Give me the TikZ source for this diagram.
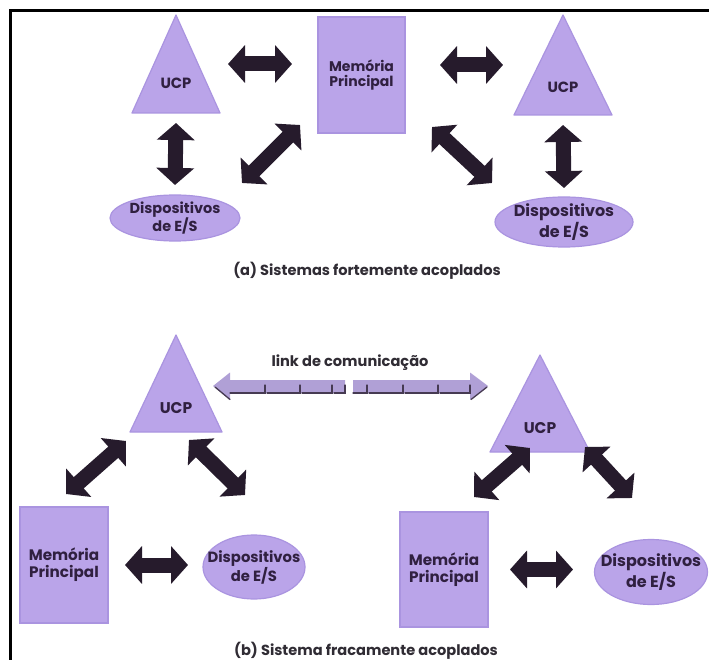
\documentclass[tikz,border=0pt]{standalone}
\usepackage{fontspec}
\setmainfont{Poppins}
\usetikzlibrary{arrows.meta,shapes.geometric,calc}
\definecolor{lav}{RGB}{186,164,233}
\definecolor{lavedge}{RGB}{170,148,224}
\definecolor{ink}{RGB}{48,32,64}
\definecolor{arrowc}{RGB}{38,27,44}
\definecolor{capc}{RGB}{48,44,52}
\definecolor{linkc}{RGB}{176,160,214}
\definecolor{linkdark}{RGB}{70,58,82}
\newcommand{\fsz}[1]{\fontsize{#1}{1.12\dimexpr#1pt\relax}\selectfont}
\tikzset{
  lbl/.style={font=\bfseries, text=ink, align=center, inner sep=0pt},
  capt/.style={font=\bfseries\fsz{14.6}, text=capc, inner sep=0pt},
  tribox/.style={rectangle, inner sep=0pt, outer sep=0pt},
  trifill/.style={fill=lav, draw=lavedge, line width=1.2pt, line join=round},
  membox/.style={rectangle, fill=lav, draw=lavedge, line width=1.2pt, inner sep=0pt, outer sep=0pt, lbl},
  esnode/.style={ellipse, fill=lav, draw=lavedge, line width=1.2pt, inner sep=0pt, outer sep=0pt},
  bigarrow/.style={draw=arrowc, line width=15pt,
    {Triangle[width=37pt,length=17pt]}-{Triangle[width=37pt,length=17pt]}},
  linkpiece/.style={fill=linkc},
  linkshade/.style={draw=linkdark, line width=1.3pt, line cap=round},
}
\begin{document}
\begin{tikzpicture}[x=1pt,y=-1pt]
\useasboundingbox (0,0) rectangle (709,660);
\fill[white] (0,0) rectangle (709,660);

% outer frame
\draw[line width=2.5pt, black] (10.5,660) -- (10.5,10.5) -- (709,10.5);

% ---------- (a) tightly coupled ----------
\node[tribox, minimum width=88pt, minimum height=98pt] (ucpA1) at (176,64) {};
\filldraw[trifill] (ucpA1.north) -- (ucpA1.south west) -- (ucpA1.south east) -- cycle;
\node[lbl, font=\bfseries\fsz{14.8}] (ucpA1t) at ([yshift=30pt]ucpA1.south) {UCP};

\node[membox, font=\bfseries\fsz{14}, minimum width=87pt, minimum height=116pt] (memA) at (361.5,75) {Memória\\Principal};

\node[tribox, minimum width=98pt, minimum height=100pt] (ucpA2) at (563,65) {};
\filldraw[trifill] (ucpA2.north) -- (ucpA2.south west) -- (ucpA2.south east) -- cycle;
\node[lbl, font=\bfseries\fsz{14.8}] (ucpA2t) at ([yshift=28pt]ucpA2.south) {UCP};

\node[esnode, minimum width=130pt, minimum height=46pt] (esA1) at (175,218) {};
\node[lbl, font=\bfseries\fsz{14.5}] (esA1t) at (esA1) {Dispositivos\\de E/S};
\node[esnode, minimum width=138pt, minimum height=50pt] (esA2) at (564,222) {};
\node[lbl, font=\bfseries\fsz{16}] (esA2t) at (esA2) {Dispositivos\\de E/S};

\draw[bigarrow] ([xshift=8pt]ucpA1.east) -- ([xshift=-26pt]memA.west |- ucpA1.east);
\draw[bigarrow] ([xshift=35pt]memA.east |- ucpA2.west) -- ([xshift=-11pt]ucpA2.west);
\draw[bigarrow] ([yshift=-10pt]ucpA1.south) -- ([yshift=10pt]esA1.north);
\draw[bigarrow] ([yshift=-10pt]ucpA2.south) -- ([yshift=9pt]esA2.north);
\draw[bigarrow] ([xshift=67pt,yshift=35pt]esA1.center) -- ([xshift=-18pt,yshift=8pt]memA.south west);
\draw[bigarrow] ([xshift=27pt,yshift=6pt]memA.south east) -- ([xshift=-72pt,yshift=39pt]esA2.center);

\node[capt] (captA) at (367,271) {(a) Sistemas fortemente acoplados};

% ---------- (b) loosely coupled ----------
\node[tribox, minimum width=92pt, minimum height=97pt] (ucpB1) at (176,383.5) {};
\filldraw[trifill] (ucpB1.north) -- (ucpB1.south west) -- (ucpB1.south east) -- cycle;
\node[lbl, font=\bfseries\fsz{15.5}] (ucpB1t) at ([yshift=24pt]ucpB1.south) {UCP};

\node[tribox, minimum width=100pt, minimum height=97pt] (ucpB2) at (540,403.5) {};
\filldraw[trifill] (ucpB2.north) -- (ucpB2.south west) -- (ucpB2.south east) -- cycle;
\node[lbl, font=\bfseries\fsz{15.5}] (ucpB2t) at ([yshift=24pt]ucpB2.south) {UCP};

\node[membox, font=\bfseries\fsz{15.2}, minimum width=88pt, minimum height=116pt] (memB1) at (64,565) {Memória\\Principal};
\node[membox, font=\bfseries\fsz{15.2}, minimum width=88pt, minimum height=115pt] (memB2) at (444,569.5) {Memória\\Principal};
\node[esnode, minimum width=102pt, minimum height=64pt] (esB1) at (254,567) {};
\node[lbl, font=\bfseries\fsz{14.8}] (esB1t) at (esB1) {Dispositivos\\de E/S};
\node[esnode, minimum width=113pt, minimum height=65pt] (esB2) at (651,572) {};
\node[lbl, font=\bfseries\fsz{16}] (esB2t) at (esB2) {Dispositivos\\de E/S};

\draw[bigarrow] ([xshift=-4pt,yshift=-9pt]ucpB1.south west) -- ([xshift=-42pt,yshift=13pt]memB1.north east);
\draw[bigarrow] ([xshift=-33pt,yshift=-8pt]ucpB1.south east) -- ([xshift=-9pt,yshift=72pt]esB1.center);
\draw[bigarrow] ([xshift=40pt,yshift=4pt]ucpB2.south west) -- ([xshift=30pt,yshift=15pt]memB2.north);
\draw[bigarrow] ([xshift=-5pt,yshift=5pt]ucpB2.south east) -- ([xshift=-19pt,yshift=74pt]esB2.center);
\draw[bigarrow] ([xshift=17pt]memB1.east) -- ([xshift=-15pt]esB1.west |- memB1.east);
\draw[bigarrow] ([xshift=22pt]memB2.east) -- ([xshift=-21.5pt]esB2.west |- memB2.east);

% communication link between the two processors
\coordinate (lkL) at (213,386);
\coordinate (lkR) at (488,386);
\fill[linkpiece] (lkL) -- ++(17,-13.5) -- ++(0,7.5) -- ++(115,0) -- ++(0,13) -- ++(-115,0) -- ++(0,6.5) -- cycle;
\fill[linkpiece] (lkR) -- ++(-18,-13.5) -- ++(0,7.5) -- ++(-117,0) -- ++(0,13) -- ++(117,0) -- ++(0,6.5) -- cycle;
\draw[linkshade] (lkL) ++(2,1) -- ++(15,12.5);
\draw[linkshade] (lkR) ++(-1,1) -- ++(-16,12.5);
\foreach \a/\b in {230/265,267/300,302/332,334/345,353/367,369/403,405/438,440/470}
  \draw[linkshade] (\a,393) -- (\b,393) -- (\b,385);
\node[font=\bfseries\fsz{14.6}, text=capc, inner sep=0pt] (lkText) at (350,363) {link de comunicação};

\node[capt] (captB) at (366,651) {(b) Sistema fracamente acoplados};
\end{tikzpicture}
\end{document}
